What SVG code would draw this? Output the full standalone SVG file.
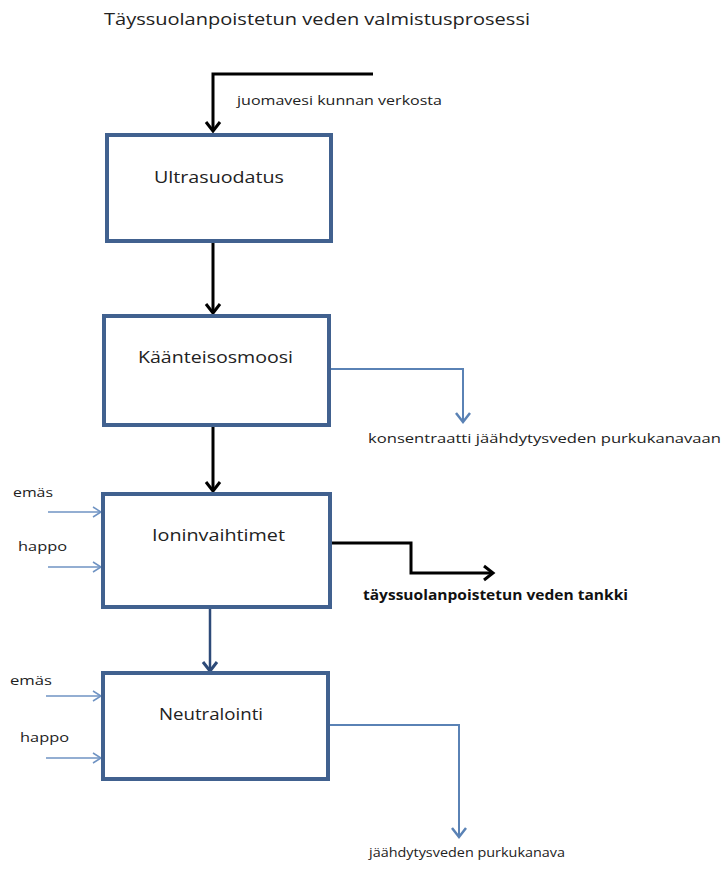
<svg xmlns="http://www.w3.org/2000/svg" width="725" height="871" viewBox="0 0 725 871">
<style>
text{font-family:"Open Sans","Noto Sans","DejaVu Sans",sans-serif;fill:#222}
.t{font-size:17px}
.n{font-size:17px}
.l{font-size:13.5px}
.b{font-size:14px;font-weight:bold;fill:#111}
.box{fill:#fff;stroke:#41618f;stroke-width:4}
.blk{fill:none;stroke:#000;stroke-width:3}
.blu{fill:none;stroke:#5a82b5;stroke-width:2}
.lb{fill:none;stroke:#6f93c3;stroke-width:1.3}
.dk{fill:none;stroke:#2d4a78;stroke-width:2.5}
</style>
<defs>
<marker id="ab" markerUnits="userSpaceOnUse" markerWidth="24" markerHeight="24" viewBox="-12 -12 24 24" refX="0" refY="0" orient="auto"><path d="M-9,-7 L0,0 L-9,7" fill="none" stroke="#000" stroke-width="3"/></marker>
<marker id="abl" markerUnits="userSpaceOnUse" markerWidth="24" markerHeight="24" viewBox="-12 -12 24 24" refX="0" refY="0" orient="auto"><path d="M-9,-7 L0,0 L-9,7" fill="none" stroke="#5a82b5" stroke-width="2.5"/></marker>
<marker id="adk" markerUnits="userSpaceOnUse" markerWidth="24" markerHeight="24" viewBox="-12 -12 24 24" refX="0" refY="0" orient="auto"><path d="M-9,-7 L0,0 L-9,7" fill="none" stroke="#2d4a78" stroke-width="3"/></marker>
<marker id="alb" markerUnits="userSpaceOnUse" markerWidth="24" markerHeight="24" viewBox="-12 -12 24 24" refX="0" refY="0" orient="auto"><path d="M-8,-5 L0,0 L-8,5" fill="none" stroke="#6f93c3" stroke-width="1.5"/></marker>
</defs>
<text class="t" x="104" y="25" textLength="426" lengthAdjust="spacingAndGlyphs">Täyssuolanpoistetun  veden  valmistusprosessi</text>
<g id="connectors">
<path class="blk" d="M373,74 H213 V131" stroke-width="2" marker-end="url(#ab)"/>
<path class="blk" d="M213,243 V313" marker-end="url(#ab)"/>
<path class="blk" d="M213,427 V491" marker-end="url(#ab)"/>
<path class="dk" d="M210,609 V671" marker-end="url(#adk)"/>
<path class="blu" d="M331,369 H463 V422" marker-end="url(#abl)"/>
<path class="blk" d="M332,543 H411 V573 H493" stroke-width="2.5" marker-end="url(#ab)"/>
<path class="blu" d="M330,725 H459 V837" marker-end="url(#abl)"/>
<path class="lb" d="M48,512 H101" marker-end="url(#alb)"/>
<path class="lb" d="M48,567 H101" marker-end="url(#alb)"/>
<path class="lb" d="M46,696 H101" marker-end="url(#alb)"/>
<path class="lb" d="M46,758 H101" marker-end="url(#alb)"/>
</g>
<text class="l" x="237" y="105" textLength="205" lengthAdjust="spacingAndGlyphs">juomavesi kunnan verkosta</text>
<g id="ultrasuodatus">
<rect class="box" x="107" y="135" width="224" height="106" stroke-width="3.5"/>
<text class="n" x="154" y="183" textLength="130" lengthAdjust="spacingAndGlyphs">Ultrasuodatus</text>
</g>
<g id="kaanteisosmoosi">
<rect class="box" x="104" y="316" width="225" height="109"/>
<text class="n" x="138" y="363" textLength="155" lengthAdjust="spacingAndGlyphs">Käänteisosmoosi</text>
</g>
<text class="l" x="368" y="443" textLength="353" lengthAdjust="spacingAndGlyphs">konsentraatti jäähdytysveden purkukanavaan</text>
<g id="ioninvaihtimet">
<rect class="box" x="103" y="494" width="227" height="113"/>
<text class="n" x="152" y="541" textLength="133" lengthAdjust="spacingAndGlyphs">Ioninvaihtimet</text>
</g>
<text class="l" x="13" y="497" textLength="40" lengthAdjust="spacingAndGlyphs">emäs</text>
<text class="l" x="18" y="551" textLength="49" lengthAdjust="spacingAndGlyphs">happo</text>
<text class="b" x="363" y="600" textLength="265" lengthAdjust="spacingAndGlyphs">täyssuolanpoistetun  veden tankki</text>
<g id="neutralointi">
<rect class="box" x="103" y="673" width="225" height="106"/>
<text class="n" x="159" y="720" textLength="104" lengthAdjust="spacingAndGlyphs">Neutralointi</text>
</g>
<text class="l" x="10" y="685" textLength="42" lengthAdjust="spacingAndGlyphs">emäs</text>
<text class="l" x="20" y="742" textLength="49" lengthAdjust="spacingAndGlyphs">happo</text>
<text class="l" x="369" y="857" textLength="196" lengthAdjust="spacingAndGlyphs">jäähdytysveden purkukanava</text>
</svg>
